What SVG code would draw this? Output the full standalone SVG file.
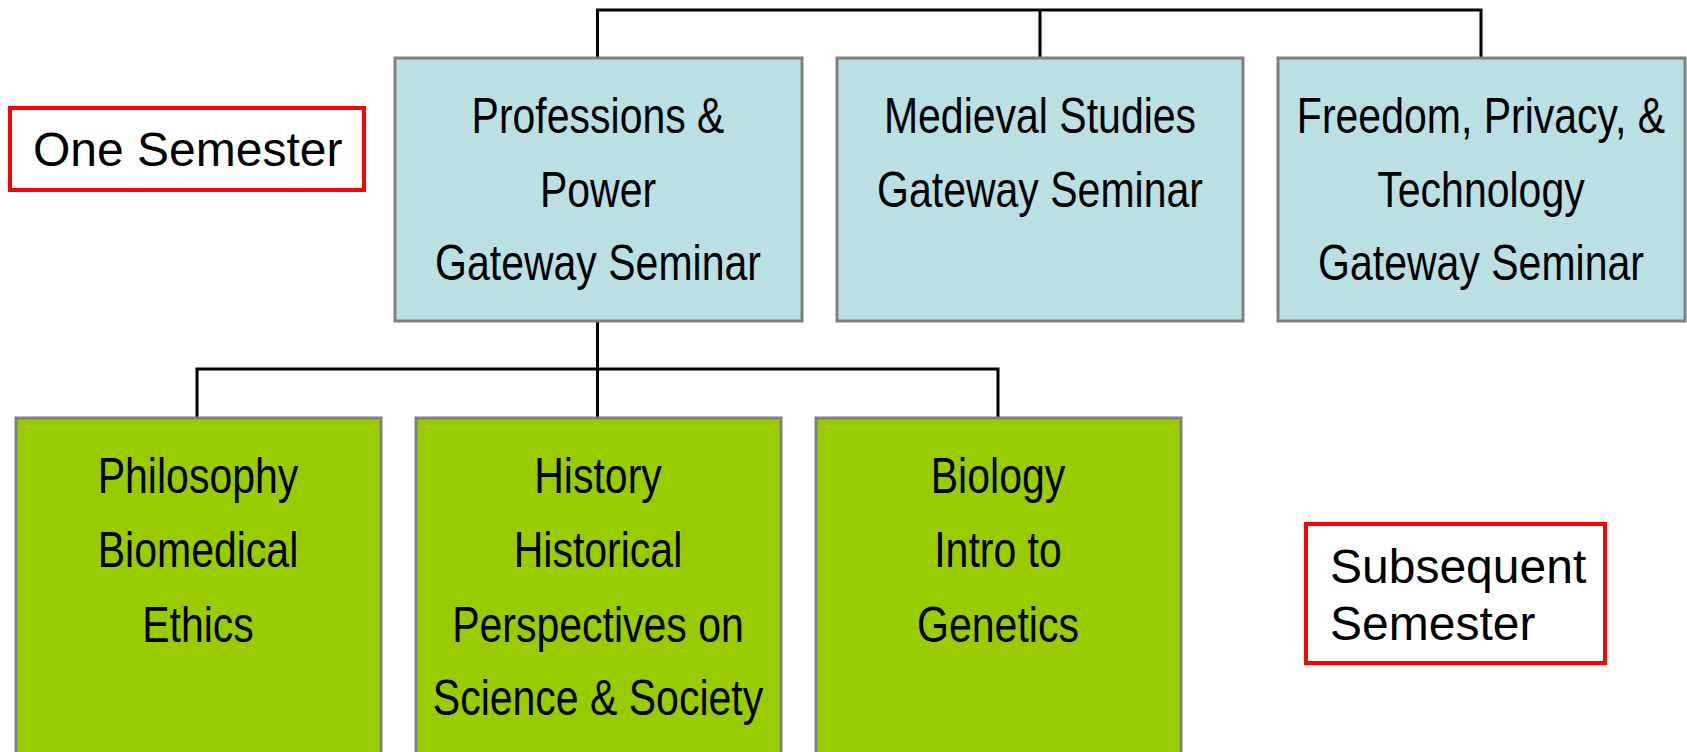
<svg xmlns="http://www.w3.org/2000/svg" width="1687" height="752" viewBox="0 0 1687 752">
<style>
.top{fill:#BBE0E3;stroke:#808080;stroke-width:3}
.bot{fill:#99CC00;stroke:#808080;stroke-width:3}
.lbl{fill:#fff;stroke:#FF0000;stroke-width:4}
.t{font-family:"Liberation Sans",Arial,sans-serif;font-size:50px;text-anchor:middle;fill:#000}
.s{font-family:"Liberation Sans",Arial,sans-serif;font-size:48px;fill:#000}
.c{fill:none;stroke:#000;stroke-width:3}
</style>
<rect width="1687" height="752" fill="#fff"/>
<g id="connectors">
<path class="c" d="M597.5,58 V10 H1481 V58 M1040,10 V58"/>
<path class="c" d="M597.5,321 V418 M197,418 V369 H998 V418"/>
</g>
<g id="one-semester">
<rect class="lbl" x="10" y="108" width="354" height="82"/>
<text class="s" x="33" y="166">One Semester</text>
</g>
<g id="professions">
<rect class="top" x="395" y="58" width="407" height="263"/>
<g transform="translate(598,0) scale(0.82,1)">
<text class="t" x="0" y="133">Professions &amp;</text>
<text class="t" x="0" y="207">Power</text>
<text class="t" x="0" y="280">Gateway Seminar</text>
</g>
</g>
<g id="medieval">
<rect class="top" x="837" y="58" width="406" height="263"/>
<g transform="translate(1040,0) scale(0.82,1)">
<text class="t" x="0" y="133">Medieval Studies</text>
<text class="t" x="0" y="207">Gateway Seminar</text>
</g>
</g>
<g id="freedom">
<rect class="top" x="1278" y="58" width="407" height="263"/>
<g transform="translate(1481,0) scale(0.82,1)">
<text class="t" x="0" y="133">Freedom, Privacy, &amp;</text>
<text class="t" x="0" y="207">Technology</text>
<text class="t" x="0" y="280">Gateway Seminar</text>
</g>
</g>
<g id="philosophy">
<rect class="bot" x="16" y="418" width="365" height="345"/>
<g transform="translate(198,0) scale(0.82,1)">
<text class="t" x="0" y="493">Philosophy</text>
<text class="t" x="0" y="567">Biomedical</text>
<text class="t" x="0" y="642">Ethics</text>
</g>
</g>
<g id="history">
<rect class="bot" x="416" y="418" width="365" height="345"/>
<g transform="translate(598,0) scale(0.82,1)">
<text class="t" x="0" y="493">History</text>
<text class="t" x="0" y="567">Historical</text>
<text class="t" x="0" y="642">Perspectives on</text>
<text class="t" x="0" y="715">Science &amp; Society</text>
</g>
</g>
<g id="biology">
<rect class="bot" x="816" y="418" width="365" height="345"/>
<g transform="translate(998,0) scale(0.82,1)">
<text class="t" x="0" y="493">Biology</text>
<text class="t" x="0" y="567">Intro to</text>
<text class="t" x="0" y="642">Genetics</text>
</g>
</g>
<g id="subsequent-semester">
<rect class="lbl" x="1306" y="524" width="299" height="139"/>
<text class="s" x="1330" y="583">Subsequent</text>
<text class="s" x="1330" y="640">Semester</text>
</g>
</svg>
